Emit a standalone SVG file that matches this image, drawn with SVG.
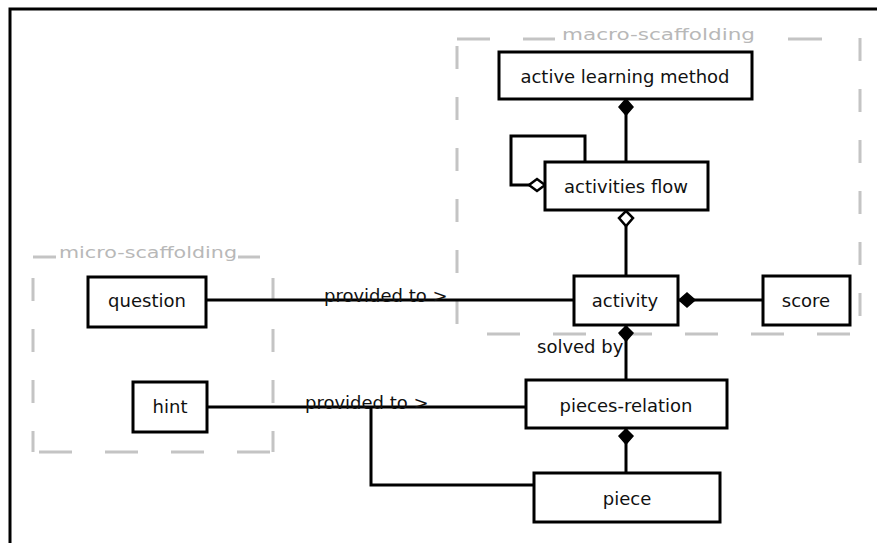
<svg xmlns="http://www.w3.org/2000/svg" width="877" height="543" viewBox="0 0 877 543">
<style>
.node rect{fill:#fff;stroke:#000;stroke-width:3}
.node text,.lbl{font-family:"DejaVu Sans","Liberation Sans",sans-serif;font-size:18px;fill:#111;text-anchor:middle}
.lbl{text-anchor:start}
.conn{fill:none;stroke:#000;stroke-width:3}
.dash{stroke:#c4c4c4;stroke-width:3;fill:none}
.dv{stroke-dasharray:23 28}
.dh{stroke-dasharray:33 33}
.glbl{font-family:"DejaVu Sans","Liberation Sans",sans-serif;font-size:15px;fill:#b8b8b8}
.fd{fill:#000;stroke:#000;stroke-width:1.5}
.hd{fill:#fff;stroke:#000;stroke-width:2.5}
</style>
<rect width="877" height="543" fill="#fff"/>
<g id="frame">
<path d="M10 543 V9 H877" fill="none" stroke="#000" stroke-width="3"/>
</g>
<g id="macro-scaffolding">
<line class="dash" x1="457" y1="39" x2="490" y2="39"/>
<line class="dash" x1="523" y1="39" x2="555" y2="39"/>
<line class="dash" x1="788" y1="39" x2="822" y2="39"/>
<line class="dash dv" x1="457" y1="46" x2="457" y2="334"/>
<line class="dash dv" x1="860" y1="38" x2="860" y2="334"/>
<line class="dash dh" x1="487" y1="334" x2="853" y2="334"/>
<text class="glbl" x="562" y="40" textLength="193" lengthAdjust="spacingAndGlyphs">macro-scaffolding</text>
</g>
<g id="micro-scaffolding">
<line class="dash" x1="33" y1="257" x2="56" y2="257"/>
<line class="dash" x1="238" y1="257" x2="260" y2="257"/>
<line class="dash dv" x1="33" y1="278" x2="33" y2="452"/>
<line class="dash dv" x1="273" y1="278" x2="273" y2="452"/>
<line class="dash dh" x1="33" y1="452" x2="273" y2="452" stroke-dashoffset="-6"/>
<text class="glbl" x="59" y="258" textLength="178" lengthAdjust="spacingAndGlyphs">micro-scaffolding</text>
</g>
<g id="connectors">
<line class="conn" x1="626" y1="99" x2="626" y2="162"/>
<path class="fd" d="M626 99 L633 107 L626 115 L619 107 Z"/>
<path class="conn" d="M545 185 H511 V136 H585 V162"/>
<path class="hd" d="M545 185 L537 179 L529 185 L537 191 Z"/>
<line class="conn" x1="626" y1="210" x2="626" y2="276"/>
<path class="hd" d="M626 211 L633 218 L626 226 L619 218 Z"/>
<line class="conn" x1="678" y1="300" x2="763" y2="300"/>
<path class="fd" d="M679 300 L687 293 L695 300 L687 307 Z"/>
<line class="conn" x1="626" y1="325" x2="626" y2="380"/>
<path class="fd" d="M626 326 L633 333 L626 341 L619 333 Z"/>
<text class="lbl" x="537" y="353">solved by</text>
<line class="conn" x1="206" y1="300" x2="574" y2="300"/>
<text class="lbl" x="324" y="302">provided to &gt;</text>
<line class="conn" x1="207" y1="407" x2="526" y2="407"/>
<text class="lbl" x="305" y="409">provided to &gt;</text>
<path class="conn" d="M371 407 V485 H534"/>
<line class="conn" x1="626" y1="428" x2="626" y2="473"/>
<path class="fd" d="M626 429 L633 436 L626 444 L619 436 Z"/>
</g>
<g id="active-learning-method" class="node">
<rect x="499" y="52" width="253" height="47"/>
<text x="625" y="83">active learning method</text>
</g>
<g id="activities-flow" class="node">
<rect x="545" y="162" width="163" height="48"/>
<text x="626" y="193">activities flow</text>
</g>
<g id="activity" class="node">
<rect x="574" y="276" width="104" height="49"/>
<text x="625" y="307">activity</text>
</g>
<g id="score" class="node">
<rect x="763" y="276" width="87" height="49"/>
<text x="806" y="307">score</text>
</g>
<g id="question" class="node">
<rect x="88" y="277" width="118" height="50"/>
<text x="147" y="307">question</text>
</g>
<g id="hint" class="node">
<rect x="133" y="382" width="74" height="50"/>
<text x="170" y="413">hint</text>
</g>
<g id="pieces-relation" class="node">
<rect x="526" y="380" width="201" height="48"/>
<text x="626" y="412">pieces-relation</text>
</g>
<g id="piece" class="node">
<rect x="534" y="473" width="186" height="49"/>
<text x="627" y="505">piece</text>
</g>
</svg>
